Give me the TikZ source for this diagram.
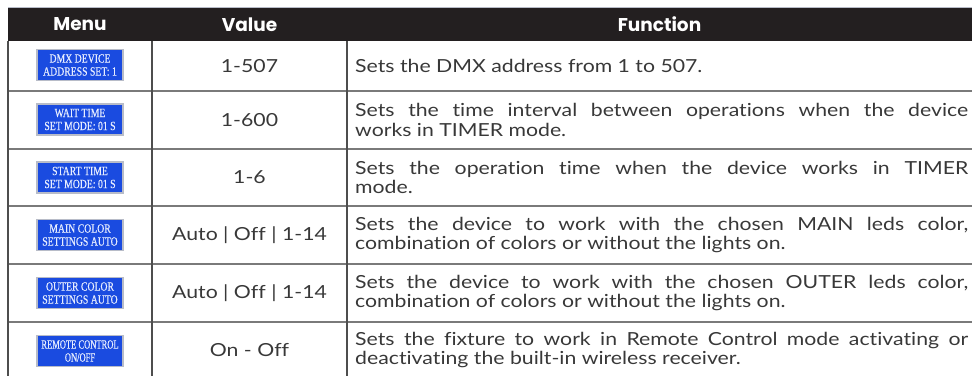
\documentclass[tikz,border=0pt]{standalone}
\usepackage{fontspec}
\setmainfont{Lato}[Ligatures=NoCommon,FakeStretch=1.18]
\newfontfamily\headfont{Poppins}
\newfontfamily\lcdfont[FakeStretch=0.78,FakeBold=0.4]{Liberation Serif}
\newfontfamily\lcdnarrowfont[FakeStretch=0.68,FakeBold=0.4]{Liberation Serif}
\definecolor{headbg}{HTML}{231F20}
\definecolor{hline}{HTML}{7A7A7A}
\definecolor{vline}{HTML}{4E4E4E}
\definecolor{lcdblue}{HTML}{1A4BE0}
\definecolor{lcdedge}{HTML}{B8BCC8}
\definecolor{lcdtext}{HTML}{E8EEFF}
\definecolor{bodytext}{HTML}{383838}
\tikzset{
  headtext/.style={text=white,font=\headfont\fontsize{18.5}{22}\selectfont\bfseries,inner sep=0pt},
  lcd/.style={fill=lcdblue,draw=lcdedge,line width=1.2pt,minimum width=86pt,minimum height=31pt,
    inner sep=0pt,align=center,text=lcdtext,font=\lcdfont\fontsize{12.5}{13}\selectfont},
  lcdnarrow/.style={font=\lcdnarrowfont\fontsize{12.5}{13}\selectfont},
  valtext/.style={text=bodytext,font=\fontsize{18}{19.5}\selectfont,inner sep=0pt},
  functext/.style={text=bodytext,font=\fontsize{18}{19.5}\selectfont,inner sep=0pt,
    text width=613pt,align=justify,anchor=west},
  hrule/.style={draw=hline,line width=1.3pt},
  vrule/.style={draw=vline,line width=1.3pt}
}
\begin{document}
\begin{tikzpicture}[x=1pt,y=-1pt]
\useasboundingbox (0,0) rectangle (972,376);
% header band
\fill[headbg] (8,8) rectangle (972,41);
\draw[lcdedge,line width=0.8pt] (8,7.6) -- (972,7.6);
\node[headtext] (hmenu) at (80,24.5) {Menu};
\node[headtext] (hval) at (249.5,24.5) {Value};
\node[headtext] (hfun) at (659.5,24.5) {Function};
% grid
\foreach \yy in {91,149,206,264,322}
  \draw[hrule] (8,\yy) -- (972,\yy);
\draw[vrule] (8,41) -- (8,376);
\draw[vrule] (152,41) -- (152,376);
\draw[vrule] (347,41) -- (347,376);
% menu screens
\node[lcd] (m1) at (80,65) {DMX DEVICE\\ADDRESS SET: 1};
\node[lcd] (m2) at (80,119.5) {WAIT TIME\\SET MODE: 01 S};
\node[lcd] (m3) at (80,177.5) {START TIME\\SET MODE: 01 S};
\node[lcd] (m4) at (80,235) {MAIN COLOR\\SETTINGS AUTO};
\node[lcd] (m5) at (80,293) {OUTER COLOR\\SETTINGS AUTO};
\node[lcd,lcdnarrow] (m6) at (80,351) {REMOTE CONTROL\\ON/OFF};
% values
\node[valtext] (v1) at (249.5,66) {1-507};
\node[valtext] (v2) at (249.5,120) {1-600};
\node[valtext] (v3) at (249.5,177.5) {1-6};
\node[valtext] (v4) at (249.5,235) {Auto | Off | 1-14};
\node[valtext] (v5) at (249.5,293) {Auto | Off | 1-14};
\node[valtext] (v6) at (249.5,350) {On - Off};
% functions
\node[functext] (f1) at (355,66) {Sets the DMX address from 1 to 507.};
\node[functext] (f2) at (355,120) {Sets the time interval between operations when the device\linebreak works in TIMER mode.};
\node[functext] (f3) at (355,177.5) {Sets the operation time when the device works in TIMER\linebreak mode.};
\node[functext] (f4) at (355,235) {Sets the device to work with the chosen MAIN leds color,\linebreak combination of colors or without the lights on.};
\node[functext] (f5) at (355,293) {Sets the device to work with the chosen OUTER leds color,\linebreak combination of colors or without the lights on.};
\node[functext] (f6) at (355,350) {Sets the fixture to work in Remote Control mode activating or\linebreak deactivating the built-in wireless receiver.};
\end{tikzpicture}
\end{document}
